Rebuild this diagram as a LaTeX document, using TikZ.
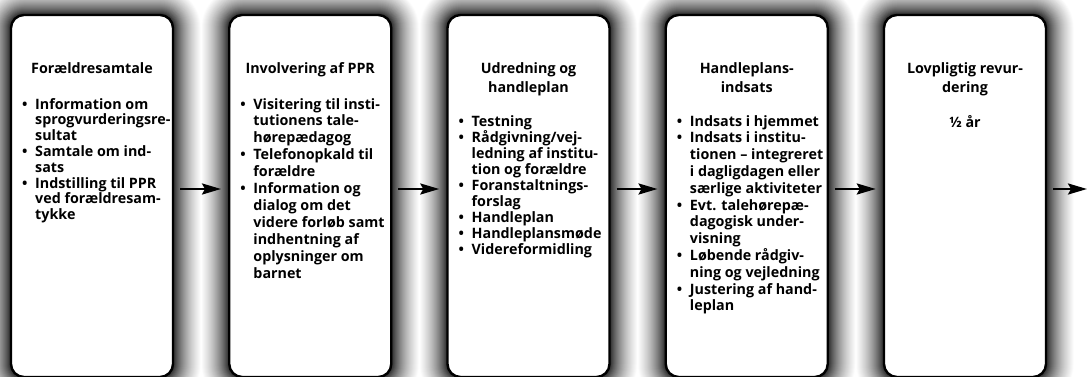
\documentclass[tikz,border=0pt]{standalone}
\usepackage{fontspec}
\setmainfont{Open Sans}
\usetikzlibrary{arrows.meta}
\newcommand\bitem{\par\hangindent=13pt\hangafter=1\noindent\makebox[13pt][l]{\textbullet}}
\newcommand\listfont[1]{\bfseries\fontsize{14.3}{#1}\selectfont}
\tikzset{
  stepbox/.style={draw=black, line width=2.4pt, fill=white, rounded corners=13pt,
    minimum width=162pt, minimum height=362pt, inner sep=0pt},
  titletext/.style={inner sep=0pt, anchor=base, align=center, font=\bfseries\fontsize{14.3}{19.5}\selectfont},
  listtext/.style={inner sep=0pt, anchor=base west},
  conn/.style={line width=2.6pt, -{Stealth[length=19pt,width=11pt,inset=3pt]}, shorten <=6pt}
}
\begin{document}
\begin{tikzpicture}[x=1pt,y=1pt]
\useasboundingbox (0,0) rectangle (1087,376);
\clip (0,0) rectangle (1087,376);
% glow shadows (opaque grey layers, outside in)
\foreach \L in {11,229.25,447.5,665.75,884}{
  \foreach \k in {28,27,...,1}{
    \pgfmathsetmacro\pc{max(0,100*(0.85*exp((0.5-\k)/20)-0.21*(\k-0.5)/28))}
    \fill[black!\pc!white, rounded corners={13+\k}] ({\L-\k},{-1-\k}) rectangle ({\L+162+\k},{361+\k});
  }
}
% boxes
\node[stepbox] (b1) at (92,180) {};
\node[stepbox] (b2) at (310.25,180) {};
\node[stepbox] (b3) at (528.5,180) {};
\node[stepbox] (b4) at (746.75,180) {};
\node[stepbox] (b5) at (965,180) {};
% titles
\node[titletext] (t1) at (92,303) {Forældresamtale};
\node[titletext] (t2) at (310.25,303) {Involvering af PPR};
\node[titletext] (t3) at (528.5,303) {\parbox[t]{160pt}{\centering Udredning og\\ handleplan}};
\node[titletext] (t4) at (746.75,303) {\parbox[t]{160pt}{\centering Handleplans-\\ indsats}};
\node[titletext] (t5) at (965,303) {\parbox[t]{160pt}{\centering Lovpligtig revur-\\ dering}};
\node[titletext] (h5) at (965,249) {½ år};
% lists
\node[listtext] (l1) at (22,267) {\parbox[t]{155pt}{\raggedright\listfont{15.8}
\bitem Information om\newline sprogvurderingsre-\newline sultat
\bitem Samtale om ind-\newline sats
\bitem Indstilling til PPR\newline ved forældresam-\newline tykke}};
\node[listtext] (l2) at (240.25,267) {\parbox[t]{155pt}{\raggedright\listfont{16.9}
\bitem Visitering til insti-\newline tutionens tale-\newline hørepædagog
\bitem Telefonopkald til\newline forældre
\bitem Information og\newline dialog om det\newline videre forløb samt\newline indhentning af\newline oplysninger om\newline barnet}};
\node[listtext] (l3) at (458.5,250) {\parbox[t]{155pt}{\raggedright\listfont{16}
\bitem Testning
\bitem Rådgivning/vej-\newline ledning af institu-\newline tion og forældre
\bitem Foranstaltnings-\newline forslag
\bitem Handleplan
\bitem Handleplansmøde
\bitem Videreformidling}};
\node[listtext] (l4) at (676.75,250) {\parbox[t]{155pt}{\raggedright\listfont{16.8}
\bitem Indsats i hjemmet
\bitem Indsats i institu-\newline tionen – integreret\newline i dagligdagen eller\newline særlige aktiviteter
\bitem Evt. talehørepæ-\newline dagogisk under-\newline visning
\bitem Løbende rådgiv-\newline ning og vejledning
\bitem Justering af hand-\newline leplan}};
% arrows
\coordinate (ay) at (0,187);
\coordinate (endp) at (1087,187);
\draw[conn, shorten >=7pt] (b1.east |- ay) -- (b2.west |- ay);
\draw[conn, shorten >=7pt] (b2.east |- ay) -- (b3.west |- ay);
\draw[conn, shorten >=7pt] (b3.east |- ay) -- (b4.west |- ay);
\draw[conn, shorten >=7pt] (b4.east |- ay) -- (b5.west |- ay);
\draw[conn] (b5.east |- ay) -- (endp);
\end{tikzpicture}
\end{document}
